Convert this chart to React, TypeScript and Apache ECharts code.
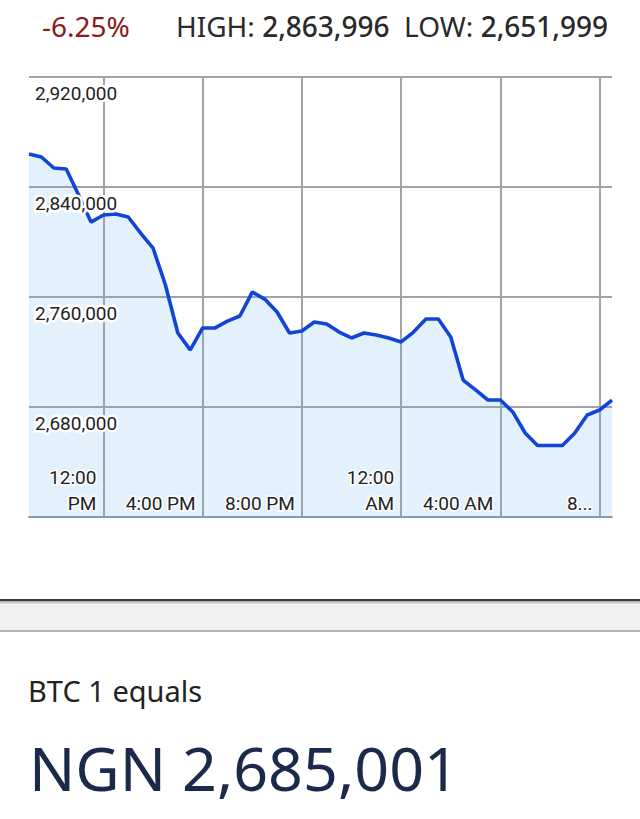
import React, { useEffect, useRef } from "react";
import * as echarts from "echarts";

// ---- data ----
const changePct = "-6.25%";
const highValue = "2,863,996";
const lowValue = "2,651,999";
const baseLabel = "BTC 1 equals";
const quoteLabel = "NGN 2,685,001";

// half-hour categories from 9:00 AM to 8:30 AM next day
const timeCategories: string[] = [
  "9:00 AM", "9:30 AM", "10:00 AM", "10:30 AM", "11:00 AM", "11:30 AM",
  "12:00 PM", "12:30 PM", "1:00 PM", "1:30 PM", "2:00 PM", "2:30 PM",
  "3:00 PM", "3:30 PM", "4:00 PM", "4:30 PM", "5:00 PM", "5:30 PM",
  "6:00 PM", "6:30 PM", "7:00 PM", "7:30 PM", "8:00 PM", "8:30 PM",
  "9:00 PM", "9:30 PM", "10:00 PM", "10:30 PM", "11:00 PM", "11:30 PM",
  "12:00 AM", "12:30 AM", "1:00 AM", "1:30 AM", "2:00 AM", "2:30 AM",
  "3:00 AM", "3:30 AM", "4:00 AM", "4:30 AM", "5:00 AM", "5:30 AM",
  "6:00 AM", "6:30 AM", "7:00 AM", "7:30 AM", "8:00 AM", "8:30 AM",
];

const btcNgn: number[] = [
  2864000, 2861800, 2853800, 2853100, 2834200, 2814500,
  2819600, 2820400, 2818200, 2806500, 2795600, 2768700,
  2733800, 2721500, 2737500, 2737500, 2742500, 2746200,
  2763600, 2758500, 2749100, 2733800, 2735300, 2741800,
  2740400, 2734500, 2730200, 2733800, 2732400, 2730200,
  2727300, 2734500, 2744000, 2744000, 2730900, 2699600,
  2692400, 2685100, 2685100, 2676400, 2661100, 2652000,
  2652000, 2652000, 2661100, 2674200, 2677800, 2685000,
];

const tickCategories = ["12:00 PM", "4:00 PM", "8:00 PM", "12:00 AM", "4:00 AM", "8:00 AM"];
const tickLabels = ["12:00\nPM", "4:00 PM", "8:00 PM", "12:00\nAM", "4:00 AM", "8..."];

const yMin = 2600000;
const yMax = 2920000;
const yStep = 80000;

export default function App() {
  const ref = useRef<HTMLDivElement>(null);

  useEffect(() => {
    if (!ref.current) return;
    const chart = echarts.init(ref.current, null, { renderer: "svg" });

    const isTick = (_i: number, v: string) => tickCategories.indexOf(v) >= 0;
    const gridColor = "#a3a3a3";
    const labelFont = "Roboto";

    chart.setOption({
      animation: false,
      backgroundColor: "#ffffff",
      grid: {
        left: 29,
        right: 28,
        top: 77,
        bottom: 302,
        containLabel: false,
        outerBoundsMode: "none",
      },
      xAxis: [
        {
          type: "category",
          position: "bottom",
          data: timeCategories,
          boundaryGap: false,
          axisLine: { show: true, lineStyle: { color: "#8d9aa4", width: 2 } },
          axisTick: { show: false },
          axisLabel: { show: false },
          splitLine: {
            show: true,
            interval: isTick,
            lineStyle: { color: gridColor, width: 2 },
          },
        },
        {
          type: "category",
          position: "bottom",
          data: timeCategories,
          boundaryGap: false,
          z: 10,
          axisLine: { show: false },
          axisTick: { show: false },
          splitLine: { show: false },
          axisLabel: {
            show: true,
            interval: isTick,
            inside: true,
            align: "right",
            verticalAlign: "bottom",
            margin: 1,
            padding: [0, 7, 0, 0],
            lineHeight: 26,
            fontFamily: labelFont,
            fontSize: 19,
            color: "#222222",
            textBorderColor: "#ffffff",
            textBorderWidth: 3,
            formatter: (v: string) => tickLabels[tickCategories.indexOf(v)] ?? "",
          },
        },
      ],
      yAxis: [
        {
          type: "value",
          position: "left",
          min: yMin,
          max: yMax,
          interval: yStep,
          axisLine: { show: false },
          axisTick: { show: false },
          axisLabel: { show: false },
          splitLine: { show: true, lineStyle: { color: gridColor, width: 2 } },
        },
        {
          type: "value",
          position: "left",
          min: yMin,
          max: yMax,
          interval: yStep,
          z: 10,
          axisLine: { show: false },
          axisTick: { show: false },
          splitLine: { show: false },
          axisLabel: {
            show: true,
            inside: true,
            align: "left",
            verticalAlign: "top",
            margin: 6,
            padding: [7, 0, 0, 0],
            showMinLabel: false,
            showMaxLabel: true,
            fontFamily: labelFont,
            fontSize: 19,
            color: "#222222",
            textBorderColor: "#ffffff",
            textBorderWidth: 5,
            formatter: (v: number) => v.toLocaleString("en-US"),
          },
        },
      ],
      series: [
        {
          type: "line",
          xAxisIndex: 0,
          yAxisIndex: 0,
          data: btcNgn,
          symbol: "none",
          smooth: false,
          lineStyle: { color: "#1244d6", width: 3.6 },
          areaStyle: { color: "rgba(100,180,240,0.18)", opacity: 1 },
          z: 2,
        },
      ],
      graphic: [
        {
          type: "text",
          style: {
            text: changePct,
            x: 42,
            y: 26,
            fill: "#8b1a1a",
            fontFamily: "Noto Sans",
            fontSize: 28,
            align: "left",
            verticalAlign: "middle",
          },
        },
        {
          type: "text",
          style: {
            text: `{l|HIGH: }{v|${highValue}}{l|  LOW: }{v|${lowValue}}`,
            x: 176,
            y: 26,
            align: "left",
            verticalAlign: "middle",
            rich: {
              l: { fontFamily: "Noto Sans", fontSize: 28, fill: "#2a2a2a", fontWeight: "normal" },
              v: { fontFamily: "Noto Sans", fontSize: 28, fill: "#2a2a2a", fontWeight: 500 },
            },
          },
        },
        // separator band
        {
          type: "rect",
          shape: { x: 0, y: 599, width: 640, height: 2 },
          style: { fill: "#3a3a3a" },
        },
        {
          type: "rect",
          shape: { x: 0, y: 601, width: 640, height: 3 },
          style: {
            fill: new echarts.graphic.LinearGradient(0, 0, 0, 1, [
              { offset: 0, color: "#a8a8a8" },
              { offset: 1, color: "#ececec" },
            ]),
          },
        },
        {
          type: "rect",
          shape: { x: 0, y: 604, width: 640, height: 26 },
          style: { fill: "#f2f2f2" },
        },
        {
          type: "rect",
          shape: { x: 0, y: 630, width: 640, height: 2 },
          style: { fill: "#b4b4b4" },
        },
        {
          type: "text",
          style: {
            text: baseLabel,
            x: 28,
            y: 690,
            fill: "#222222",
            fontFamily: "Noto Sans",
            fontSize: 29,
            align: "left",
            verticalAlign: "middle",
          },
        },
        {
          type: "text",
          style: {
            text: quoteLabel,
            x: 29,
            y: 767,
            fill: "#1b2a4a",
            fontFamily: "Noto Sans",
            fontSize: 61,
            align: "left",
            verticalAlign: "middle",
          },
        },
      ],
    });

    return () => chart.dispose();
  }, []);

  return (
    <div
      ref={ref}
      style={{ position: "absolute", left: 0, top: 0, width: 640, height: 819, background: "#fff" }}
    />
  );
}
